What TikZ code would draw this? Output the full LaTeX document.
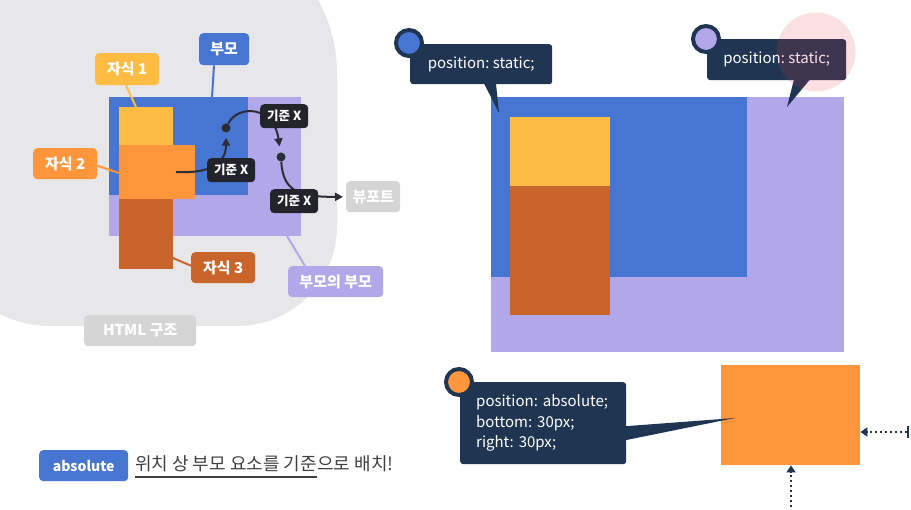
\documentclass[tikz,border=0pt]{standalone}
\usepackage{fontspec}
\setmainfont{Noto Sans CJK KR}
\frenchspacing
\usetikzlibrary{arrows.meta,calc}
\definecolor{cblue}{HTML}{4676D2}
\definecolor{clav}{HTML}{B2A7E9}
\definecolor{cyellow}{HTML}{FFBC42}
\definecolor{corange}{HTML}{FF963B}
\definecolor{cdorange}{HTML}{C9652A}
\definecolor{cnavy}{HTML}{1F3552}
\definecolor{cdark}{HTML}{23232B}
\definecolor{carrow}{HTML}{2C2C36}
\definecolor{cgraylbl}{HTML}{D5D5D5}
\definecolor{cblob}{HTML}{E7E7E9}
\definecolor{cpink}{HTML}{E63E51}
\definecolor{ctext}{HTML}{404040}
\begin{document}
\begin{tikzpicture}[x=1pt,y=-1pt,
  lbl/.style={rounded corners=4pt, text=white, inner sep=0pt, anchor=north west,
    font=\bfseries\fontsize{15}{15}\selectfont},
  kx/.style={lbl, fill=cdark, minimum width=48, minimum height=24,
    font=\bfseries\fontsize{12.5}{12.5}\selectfont},
  boxn/.style={inner sep=0pt, anchor=north west},
  lead/.style={line width=2pt},
  arr/.style={draw=carrow, line width=2pt, -{Triangle[length=8pt,width=8pt]}},
  dotn/.style={circle, fill=carrow, inner sep=0pt, minimum size=9},
  callout/.style={fill=cnavy, rounded corners=3pt, text=white, inner sep=0pt,
    anchor=north west, font=\fontsize{15}{20.5}\selectfont},
  badge/.style={circle, draw=cnavy, line width=4pt, inner sep=0pt, minimum size=26},
  dotarr/.style={draw=cnavy, line width=2.5pt, dash pattern=on 2pt off 3pt}
]
\useasboundingbox (0,0) rectangle (911,510);
% grey background blob
\begin{scope}
\clip (0,0) rectangle (911,510);
\fill[cblob] (100,-77) [rounded corners=150pt] -- (337,-77) [rounded corners=100pt] -- (337,326) [rounded corners=110pt] -- (-60,326) [sharp corners] -- (-60,-77) -- cycle;
\end{scope}

% ---------- left diagram ----------
\node[boxn, fill=clav, minimum width=192, minimum height=139] (lgp) at (109,97) {};
\node[boxn, fill=cblue, minimum width=139, minimum height=98] (lpar) at (109,97) {};
\node[boxn, fill=cyellow, minimum width=54, minimum height=38] (lc1) at (119,107) {};
\node[boxn, fill=cdorange, minimum width=54, minimum height=70] (lc3) at (119,199) {};
\node[boxn, fill=corange, minimum width=76, minimum height=54] (lc2) at (119,145) {};

\node[lbl, fill=cblue, minimum width=50, minimum height=32] (lparent) at (199,33) {부모};
\node[lbl, fill=cyellow, minimum width=64, minimum height=32] (lch1) at (95,53) {자식 1};
\node[lbl, fill=corange, minimum width=64, minimum height=31] (lch2) at (33,148) {자식 2};
\node[lbl, fill=cdorange, minimum width=64, minimum height=31] (lch3) at (191,252) {자식 3};
\node[lbl, fill=clav, minimum width=95, minimum height=31] (lgpl) at (288,266) {부모의 부모};
\node[lbl, fill=cgraylbl, minimum width=54, minimum height=31] (lview) at (346,181) {뷰포트};
\node[lbl, fill=cgraylbl, minimum width=112, minimum height=31] (lhtml) at (84,315) {HTML 구조};

\coordinate (eparent) at (212,97);
\coordinate (ech1) at (136,107);
\coordinate (ech2) at (119,173);
\coordinate (ech3) at (173,258);
\coordinate (egp) at (287,236);
\draw[lead, cblue] ($(lparent.south west)+(15,0)$) -- (eparent);
\draw[lead, cyellow] ($(lch1.south west)+(31,0)$) -- (ech1);
\draw[lead, corange] ($(lch2.east)+(0,2)$) -- (ech2);
\draw[lead, cdorange] ($(lch3.west)+(0,-2)$) -- (ech3);
\draw[lead, clav] ($(lgpl.north west)+(17,0)$) -- (egp);

% reference arrows
\coordinate (s1) at (176,172);
\node[dotn] (dot1) at (226,128) {};
\node[dotn] (dot2) at (281,157) {};
\draw[arr, shorten >=5pt] (s1) .. controls (212,174) and (226,162) .. (dot1);
\draw[arr, shorten >=6pt] (dot1) .. controls (238,104) and (274,106) .. (dot2);
\draw[arr, shorten >=3pt] (dot2) .. controls (283,192) and (300,197) .. (lview);

\node[kx] (kx1) at (207,158) {기준 X};
\node[kx] (kx2) at (260,104) {기준 X};
\node[kx] (kx3) at (270,189) {기준 X};

% ---------- right diagram ----------
\node[boxn, fill=clav, minimum width=353, minimum height=255] (rgp) at (491,97) {};
\node[boxn, fill=cblue, minimum width=256, minimum height=180] (rpar) at (491,97) {};
\node[boxn, fill=cyellow, minimum width=100, minimum height=69] (rc1) at (510,117) {};
\node[boxn, fill=cdorange, minimum width=100, minimum height=129] (rc3) at (510,186) {};
\node[boxn, fill=corange, minimum width=139, minimum height=100] (rabs) at (721,365) {};

% callout 1
\node[callout, minimum width=142, minimum height=40] (co1) at (410,44) {position: static;};
\coordinate (t1) at (499,113);
\fill[cnavy] ($(co1.south west)+(74,-1)$) -- ($(co1.south west)+(86,-1)$) -- (t1) -- cycle;
\node[badge, fill=cblue] (b1) at (409,43) {};

% callout 2
\node[callout, minimum width=139, minimum height=41] (co2) at (707,39) {position: static;};
\coordinate (t2) at (787,107);
\fill[cnavy] ($(co2.south west)+(87,-1)$) -- ($(co2.south west)+(103,-1)$) -- (t2) -- cycle;
\node[badge, fill=clav] (b2) at (706,39) {};
\node[circle, fill=cpink, opacity=0.16, inner sep=0pt, minimum size=79] (hl) at (816,52) {};

% callout 3
\node[callout, minimum height=82, text width=134, inner xsep=16pt, align=left] (co3) at (460,382)
  {position: absolute;\\bottom: 30px;\\right: 30px;};
\coordinate (t3) at (735,418);
\fill[cnavy] ($(co3.east)+(-1,3)$) -- (t3) -- ($(co3.east)+(-1,17)$) -- cycle;
\node[badge, fill=corange] (b3) at (459,382) {};

% offset arrows
\coordinate (ra) at (909,432);
\coordinate (rb) at (791,512);
\draw[dotarr, {Bar[width=12pt,line width=2.5pt]}-{Triangle[length=7pt,width=9pt]}] (ra) -- (rabs.east |- ra);
\draw[dotarr, -{Triangle[length=7pt,width=9pt]}] (rb) -- (rb |- rabs.south);

% ---------- bottom caption ----------
\node[lbl, fill=cblue, minimum width=89, minimum height=31, font=\bfseries\fontsize{14}{14}\selectfont] (abs) at (39,450) {absolute};
\node[anchor=base west, inner sep=0pt, text=ctext, font=\fontsize{18}{18}\selectfont] (ul) at (135,471) {위치 상 부모 요소를 기준};
\node[anchor=base west, inner sep=0pt, text=ctext, font=\fontsize{18}{18}\selectfont] (rest) at (ul.base east) {으로 배치!};
\draw[ctext, line width=1.2pt] ($(ul.base west)+(0,6)$) -- ($(ul.base east)+(0,6)$);
\end{tikzpicture}
\end{document}
